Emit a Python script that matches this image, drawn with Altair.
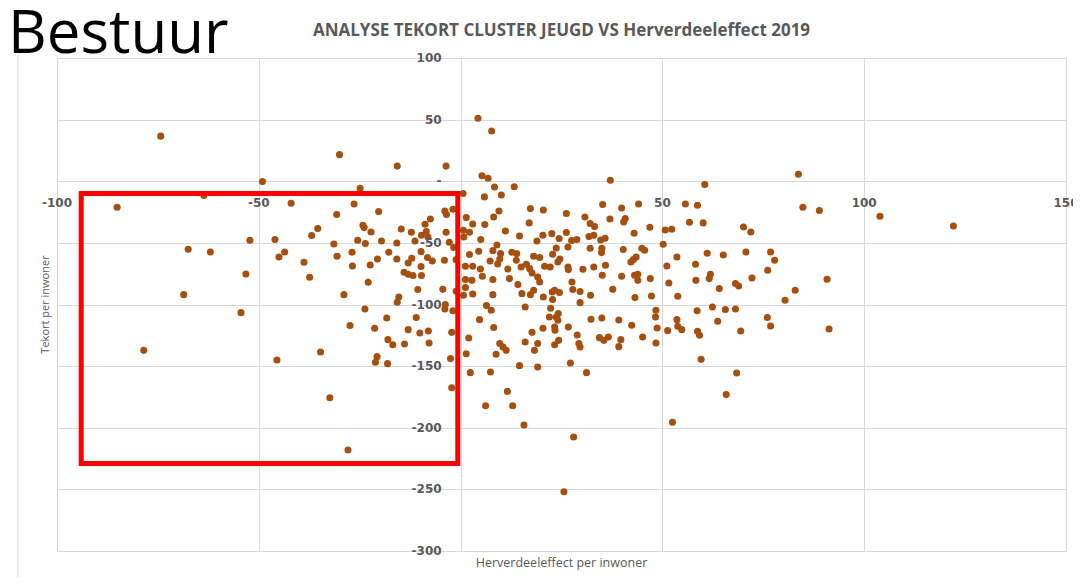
import altair as alt
import pandas as pd

# Herverdeeleffect per inwoner (x) and Tekort per inwoner (y)
herverdeel = [
    -74.3, -30.0, -15.7, -3.6, -49.1, -63.6, -24.9, 4.3, 7.7, 5.3, 6.8, 8.4, 13.3,
    -85.1, -42.0, -35.4, -36.9, -52.2, -46.0, -67.5, -62.0, -43.6, -45.0, -38.8, -37.4,
    -53.2, -68.6, -54.4, -78.5, -45.5, -34.7, -32.4, 0.6, 5.9, -26.4, -30.7, -20.3,
    -3.9, -1.9, -3.5, -7.5, -8.8, 1.4, 3.0, 8.2, 6.0, -24.2, -23.9, -22.2, -14.7,
    -12.2, -9.7, -8.5, -8.1, -3.6, 0.7, 2.2, 0.8, -25.5, -23.6, -19.6, -15.8, -11.3,
    -2.8, 5.0, -31.4, -26.9, -30.6, -17.8, -9.8, -1.7, 2.2, 4.5, 8.0, -20.6, -15.8,
    -12.1, -13.0, -8.2, -7.0, -4.0, -1.1, 1.2, 3.0, 4.9, 7.3, 9.2, -26.8, -22.4,
    -9.8, -14.0, -13.0, -11.8, -9.7, -22.9, 1.2, 2.8, 5.4, 8.0, -10.6, -4.4, -28.9,
    -15.3, -15.7, -1.1, 1.2, 0.7, 3.0, -3.8, -3.9, -1.9, -23.7, -18.3, -11.0, -27.4,
    -21.3, -13.0, -10.1, -8.0, -2.2, 2.0, 4.7, -18.0, -16.8, -13.9, -7.8, -20.7,
    -21.1, -18.1, -2.5, 1.4, 2.4, -2.2, -27.9, 37.1, 10.1, 35.2, 39.9, 44.1, 17.3,
    20.5, 9.5, 26.2, 30.8, 37.0, 40.8, 40.4, 17.0, 32.1, 33.2, 46.9, 11.1, 43.0,
    14.6, 20.4, 22.6, 26.2, 31.8, 33.0, 18.9, 24.4, 27.5, 28.8, 34.7, 35.8, 9.0,
    9.9, 23.7, 26.6, 32.1, 35.0, 34.9, 40.3, 44.9, 45.6, 12.7, 13.9, 18.1, 19.6,
    22.8, 24.6, 43.5, 9.7, 11.7, 13.8, 15.0, 16.3, 17.1, 17.7, 19.1, 19.6, 20.8,
    22.2, 24.1, 26.6, 26.7, 30.3, 33.0, 35.9, 35.1, 39.9, 42.2, 42.8, 43.1, 43.9,
    43.9, 47.0, 12.1, 14.2, 27.6, 8.0, 15.2, 17.3, 18.1, 20.5, 22.7, 23.3, 24.5,
    22.8, 27.8, 29.6, 32.2, 29.6, 37.7, 43.2, 47.3, 6.4, 7.6, 16.0, 22.3, 24.2,
    23.7, 24.1, 22.0, 32.3, 35.0, 39.2, 42.4, 48.4, 48.3, 8.2, 17.7, 20.4, 23.3,
    23.4, 26.7, 28.9, 29.3, 29.6, 34.4, 35.5, 36.6, 39.7, 39.2, 45.1, 48.7, 9.7,
    10.5, 11.3, 8.8, 16.0, 19.1, 18.3, 23.3, 24.3, 14.6, 19.1, 27.2, 7.4, 31.2,
    11.6, 6.2, 12.9, 15.7, 28.0, 25.6, 52.5, 83.7, 60.5, 55.7, 58.7, 84.8, 88.9,
    50.7, 52.3, 56.7, 60.1, 70.1, 71.9, 50.2, 53.6, 51.1, 61.1, 65.1, 70.7, 76.8,
    77.8, 58.2, 61.9, 61.6, 58.3, 76.1, 72.2, 90.8, 51.6, 64.1, 68.1, 68.9, 82.9,
    53.8, 80.4, 58.6, 62.4, 65.6, 68.1, 53.6, 53.8, 54.8, 51.3, 63.7, 58.7, 59.2,
    69.4, 76.0, 76.8, 91.3, 48.4, 59.6, 68.4, 65.8, 103.9, 122.1,
]
tekort = [
    36.6, 21.6, 12.3, 12.3, -0.3, -11.5, -5.7, 51.1, 40.7, 4.4, 2.5, -4.6, -4.4,
    -21.1, -17.9, -38.4, -44.0, -47.9, -47.3, -55.2, -57.4, -57.4, -61.4, -65.7, -77.9,
    -75.2, -92.0, -106.6, -137.2, -145.0, -138.5, -175.6, -10.0, -12.7, -18.4, -27.0, -24.6,
    -24.1, -22.7, -27.0, -30.6, -34.9, -29.5, -34.7, -29.0, -35.1, -35.7, -37.6, -41.2, -38.7,
    -41.4, -43.8, -40.8, -45.2, -41.4, -39.8, -41.4, -45.2, -47.9, -50.6, -48.5, -50.1, -48.5,
    -49.5, -47.3, -50.9, -57.6, -60.9, -57.6, -57.1, -53.8, -59.5, -56.8, -56.3, -63.1, -63.1,
    -62.5, -66.3, -61.9, -64.7, -64.1, -63.6, -69.0, -69.0, -71.2, -64.7, -67.1, -68.8, -67.9,
    -69.2, -73.9, -75.5, -76.5, -76.5, -82.0, -79.8, -80.4, -77.1, -79.8, -87.9, -87.7, -92.0,
    -93.9, -98.2, -89.3, -86.3, -92.5, -91.5, -100.1, -103.7, -105.0, -103.7, -111.0, -110.6, -117.1,
    -119.3, -120.4, -123.1, -121.5, -122.6, -127.2, -112.3, -128.5, -132.6, -132.1, -131.3, -142.3,
    -146.9, -148.0, -143.9, -139.9, -155.3, -167.5, -218.1, 0.8, -11.1, -18.9, -21.7, -18.4, -22.2,
    -23.3, -24.1, -26.2, -29.0, -30.6, -30.3, -33.0, -33.8, -34.3, -36.8, -37.3, -40.3, -42.2,
    -44.4, -43.8, -42.5, -41.6, -44.9, -43.8, -48.5, -46.5, -48.1, -47.3, -47.6, -46.3, -51.7,
    -58.7, -54.1, -53.3, -54.4, -54.4, -57.9, -55.4, -54.4, -56.0, -57.6, -58.7, -60.9, -61.9,
    -59.3, -63.1, -61.4, -63.1, -71.2, -64.1, -69.6, -67.4, -70.9, -74.4, -77.7, -81.7, -69.0,
    -69.6, -65.5, -69.6, -71.7, -71.4, -69.6, -68.2, -76.3, -77.1, -65.5, -63.6, -76.3, -75.5,
    -80.4, -79.0, -79.0, -83.8, -81.7, -92.0, -91.2, -92.0, -88.5, -93.9, -89.9, -88.5, -90.3,
    -96.0, -87.9, -89.5, -92.5, -98.5, -87.7, -94.4, -93.1, -100.9, -104.7, -102.0, -103.1, -107.4,
    -110.1, -112.8, -110.1, -112.0, -111.0, -112.6, -116.9, -104.7, -110.1, -118.7, -122.6, -119.3, -118.3,
    -120.9, -118.3, -124.8, -131.7, -134.5, -126.9, -129.1, -126.4, -128.5, -134.2, -126.4, -119.1, -131.7,
    -134.5, -137.2, -140.4, -130.4, -131.7, -137.2, -132.6, -129.1, -149.6, -150.7, -147.5, -154.8, -155.3,
    -170.5, -182.1, -182.1, -197.8, -207.5, -251.9, -195.6, 5.7, -2.7, -18.4, -19.5, -21.1, -23.8,
    -39.5, -39.0, -33.3, -33.8, -37.1, -41.2, -51.1, -61.4, -68.8, -58.4, -59.8, -57.4, -57.4,
    -64.1, -67.4, -75.5, -79.0, -80.4, -72.2, -78.5, -79.5, -82.5, -87.1, -83.0, -85.0, -88.5,
    -93.3, -96.6, -105.0, -102.0, -104.1, -103.7, -112.3, -117.7, -120.4, -121.2, -113.6, -121.8, -125.0,
    -121.5, -110.6, -117.5, -119.9, -131.3, -144.5, -155.6, -173.1, -28.4, -36.3,
]

x_ticks = [-100, -50, 50, 100, 150]
x_tick_labels = ["-100", "-50", "50", "100", "150"]
y_ticks = [100, 50, 0, -50, -100, -150, -200, -250, -300]
y_tick_labels = ["100", "50", "-", "-50", "-100", "-150", "-200", "-250", "-300"]
grid_x = [-100, -50, 0, 50, 100, 150]
grid_y = [-300, -250, -200, -150, -100, -50, 0, 50, 100]

# highlighted region (red box)
box_x = [-94.0, -0.7]
box_y = [-10.0, -229.0]

title_text = "ANALYSE TEKORT CLUSTER JEUGD VS Herverdeeleffect 2019"
corner_text = "Bestuur"
x_title = "Herverdeeleffect  per inwoner"
y_title = "Tekort per inwoner"

W, H = 1009, 493
GRAY = "#595959"

df = pd.DataFrame({"x": herverdeel, "y": tekort})
xs = alt.Scale(domain=[-100, 150], nice=False, zero=False)
ys = alt.Scale(domain=[-300, 100], nice=False, zero=False)

points = alt.Chart(df).mark_circle(size=50, opacity=1, color="#a5500e").encode(
    x=alt.X("x:Q", scale=xs, axis=alt.Axis(values=grid_x, grid=True, labels=False, ticks=False,
                                            domain=False, title=None, gridColor="#d9d9d9")),
    y=alt.Y("y:Q", scale=ys, axis=alt.Axis(values=grid_y, grid=True, labels=False, ticks=False,
                                            domain=False, title=None, gridColor="#d9d9d9")),
)

xlab = alt.Chart(pd.DataFrame({"v": x_ticks, "t": x_tick_labels})).mark_text(
    font="DejaVu Sans", fontSize=12, fontWeight="bold", color=GRAY, baseline="middle", dy=22
).encode(x=alt.X("v:Q", scale=xs), y=alt.datum(0, scale=ys), text="t:N")

ylab = alt.Chart(pd.DataFrame({"v": y_ticks, "t": y_tick_labels})).mark_text(
    font="DejaVu Sans", fontSize=12, fontWeight="bold", color=GRAY, baseline="middle", align="right", dx=-19
).encode(x=alt.datum(0, scale=xs), y=alt.Y("v:Q", scale=ys), text="t:N")

box = alt.Chart(pd.DataFrame({"x1": [box_x[0]], "x2": [box_x[1]], "y1": [box_y[0]], "y2": [box_y[1]]})).mark_rect(
    fillOpacity=0, stroke="#ff0000", strokeWidth=5
).encode(x=alt.X("x1:Q", scale=xs), x2="x2:Q", y=alt.Y("y1:Q", scale=ys), y2="y2:Q")

title = alt.Chart(pd.DataFrame({"t": [title_text]})).mark_text(
    font="Open Sans", fontSize=17, fontWeight="bold", color=GRAY, align="center", baseline="alphabetic"
).encode(x=alt.value(W / 2), y=alt.value(-22), text="t:N")

corner = alt.Chart(pd.DataFrame({"t": [corner_text]})).mark_text(
    font="Open Sans", fontSize=60, color="#000000", align="left", baseline="alphabetic"
).encode(x=alt.value(-49), y=alt.value(-5), text="t:N")

xt = alt.Chart(pd.DataFrame({"t": [x_title]})).mark_text(
    font="Open Sans", fontSize=12.5, color=GRAY, align="center", baseline="middle"
).encode(x=alt.value(W / 2), y=alt.value(H + 12), text="t:N")

yt = alt.Chart(pd.DataFrame({"t": [y_title]})).mark_text(
    font="Open Sans", fontSize=11, color=GRAY, align="center", baseline="middle", angle=270
).encode(x=alt.value(-11), y=alt.value(H / 2), text="t:N")

frame = alt.Chart(pd.DataFrame({"a": [0]})).mark_rule(color="#d9d9d9", strokeWidth=1).encode(
    x=alt.value(-39), y=alt.value(-3), y2=alt.value(H + 26)
)

chart = alt.layer(frame, points, xlab, ylab, box, title, corner, xt, yt).properties(
    width=W, height=H,
    autosize=alt.AutoSizeParams(type="none"),
    padding={"left": 49, "top": 50, "right": 7, "bottom": 26},
).configure_view(strokeWidth=0)

chart.save("out.html", embed_options={"renderer": "svg", "actions": False})
